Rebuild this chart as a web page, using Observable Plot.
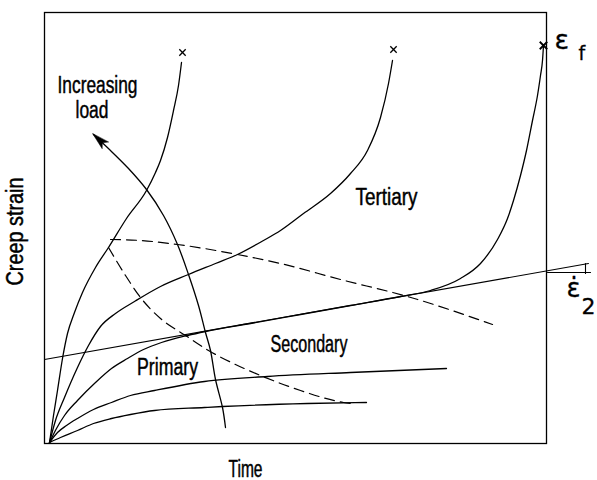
<!DOCTYPE html>
<html><head><meta charset="utf-8">
<script src="https://cdn.jsdelivr.net/npm/d3@7"></script>
<script src="https://cdn.jsdelivr.net/npm/@observablehq/plot@0.6"></script>
<style>html,body{margin:0;padding:0;background:#fff;}</style>
</head><body><div id="chart"></div>
<script>
// Schematic creep curves: time (t) vs creep strain (s), arbitrary units
const curve1T = [3,7,11,16,21,28,36,49,62,80,100,109,114,121,127,132,135];
const curve1S = [0,27,52,84,109,130,150,175,195,224,252,270,282,305,332,357,380];
const curve2T = [3,9,18,31,42,54,69,88,114,142,169,191,217,234,257,284,304,321,334,342,346];
const curve2S = [0,22,45,75,97,116,129,141,156,168,179,188,202,212,229,249,269,292,325,359,382];
const curve3T = [3,10,18,31,49,65,81,97,115,141,159,204,254,304,354,384,414,434,451,461,467,474,480,486,491,494,496,497];
const curve3S = [0,14,27,42,60,74,84,93,100,107,111,119,128,137,146,152,164,179,203,224,242,267,292,322,347,367,382,397];
const curve4T = [3,11,20,31,47,65,84,108,158,221,304,400];
const curve4S = [0,10,17,24,33,40,47,52,61,66,70,74];
const curve5T = [3,14,31,47,65,84,108,158,176,261,320];
const curve5S = [0,5,12,19,24,28,32,35,36,39,40];
// secondary (minimum) creep-rate tangent and its slope triangle
const secondaryT = [-2, 542];
const secondaryS = [83, 179];
const slopeBaseT = [501, 544];
const slopeBaseS = [170, 170];
const slopeRiseT = [539, 539];
const slopeRiseS = [169, 179];
// dashed boundaries between stages
const dashed1T = [64,94,131,191,234,294,361,446];
const dashed1S = [203,202,198,188,179,163,146,118];
const dashed2T = [62,79,94,114,139,162,189,214,254,297,304];
const dashed2S = [195,167,145,124,107,92,78,67,52,40,39];
// "increasing load" arrow
const arrowT = [179,176,169,164,159,152,142,131,117,100,82,64,47];
const arrowS = [15,35,63,92,110,137,168,198,227,253,274,292,308];
// fracture points
const fractureT = [136, 347];
const fractureS = [390, 393];
const failT = [497];
const failS = [397];
// text annotations
const labelText = ["Increasing", "load", "Tertiary", "Secondary", "Primary", "Time"];
const labelT = [51, 45.5, 340, 262.5, 121, 199];
const labelS = [350, 325, 238, 91, 68, -34];
const yLabelText = ["Creep strain"];
const yLabelT = [-24];
const yLabelS = [211];
const symText = ["ε", "f", "ε̇", "2"];
const symT = [508, 532, 520, 535];
const symS = [394, 383, 146, 129];

// layout widths for the condensed lettering
const textWidths = {"Increasing": 80, "load": 33, "Tertiary": 62, "Secondary": 77, "Primary": 61, "Time": 34, "Creep strain": 108};

const rows = (T, S) => T.map((t, i) => ({t, s: S[i]}));
const lineStyle = {x: "t", y: "s", stroke: "black", strokeWidth: 1.3};

const labels = labelText.map((text, i) => ({text, t: labelT[i], s: labelS[i]}));
const yLabels = yLabelText.map((text, i) => ({text, t: yLabelT[i], s: yLabelS[i]}));
const syms = symText.map((text, i) => ({text, t: symT[i], s: symS[i]}));

const textStyle = {x: "t", y: "s", text: "text", lineAnchor: "bottom", fill: "black", stroke: "black", strokeWidth: 0.45};

const chart = Plot.plot({
  width: 597,
  height: 480,
  marginLeft: 44,
  marginRight: 51,
  marginTop: 12,
  marginBottom: 37,
  x: {domain: [-2, 500], axis: null},
  y: {domain: [-1, 430], axis: null},
  style: {fontFamily: "Liberation Sans, Arial, sans-serif", background: "white", color: "black"},
  marks: [
    Plot.frame({stroke: "black", strokeWidth: 1.3}),
    Plot.line(rows(curve1T, curve1S), {...lineStyle, curve: "monotone-x"}),
    Plot.line(rows(curve2T, curve2S), {...lineStyle, curve: "monotone-x"}),
    Plot.line(rows(curve3T, curve3S), {...lineStyle, curve: "monotone-x"}),
    Plot.line(rows(curve4T, curve4S), {...lineStyle, curve: "monotone-x"}),
    Plot.line(rows(curve5T, curve5S), {...lineStyle, curve: "monotone-x"}),
    Plot.line(rows(secondaryT, secondaryS), {...lineStyle, strokeWidth: 1.1}),
    Plot.line(rows(slopeBaseT, slopeBaseS), {...lineStyle, strokeWidth: 1.1}),
    Plot.line(rows(slopeRiseT, slopeRiseS), {...lineStyle, strokeWidth: 1.1}),
    Plot.line(rows(dashed1T, dashed1S), {...lineStyle, strokeWidth: 1.2, strokeDasharray: "10,6", curve: "monotone-x"}),
    Plot.line(rows(dashed2T, dashed2S), {...lineStyle, strokeWidth: 1.2, strokeDasharray: "10,6", curve: "monotone-x"}),
    Plot.line(rows(arrowT, arrowS), {...lineStyle, curve: "catmull-rom", markerEnd: "arrow"}),
    Plot.dot(rows(fractureT, fractureS), {x: "t", y: "s", symbol: "times", r: 3, stroke: "black", strokeWidth: 1.3}),
    Plot.dot(rows(failT, failS), {x: "t", y: "s", symbol: "times", r: 3.5, stroke: "black", strokeWidth: 1.8}),
    Plot.text(labels, {...textStyle, fontSize: 23}),
    Plot.text(yLabels, {...textStyle, rotate: -90, fontSize: 23}),
    Plot.text(syms.slice(0, 1), {...textStyle, strokeWidth: 0.3, textAnchor: "start", fontSize: 27, fontFamily: "DejaVu Sans"}),
    Plot.text(syms.slice(1, 2), {...textStyle, strokeWidth: 0.3, textAnchor: "start", fontSize: 19, fontFamily: "DejaVu Sans"}),
    Plot.text(syms.slice(2, 3), {...textStyle, strokeWidth: 0.3, textAnchor: "start", fontSize: 26, fontFamily: "DejaVu Sans"}),
    Plot.text(syms.slice(3, 4), {...textStyle, strokeWidth: 0.3, textAnchor: "start", fontSize: 22, fontFamily: "DejaVu Sans"})
  ]
});
document.getElementById("chart").appendChild(chart);

// condensed lettering
chart.querySelectorAll("text").forEach(el => {
  const w = textWidths[el.textContent];
  if (w) { el.setAttribute("textLength", w); el.setAttribute("lengthAdjust", "spacingAndGlyphs"); }
});
// filled arrowhead
d3.select(chart).selectAll("marker").each(function() {
  const m = d3.select(this);
  m.attr("viewBox", "-18 -6 20 12").attr("markerWidth", 20).attr("markerHeight", 12)
   .attr("markerUnits", "userSpaceOnUse").attr("fill", "black").attr("stroke", "black").attr("stroke-width", 0.5);
  m.selectAll("path").attr("d", "M1,0L-16,-4.5L-12,0L-16,4.5Z");
});
</script>
</body></html>
